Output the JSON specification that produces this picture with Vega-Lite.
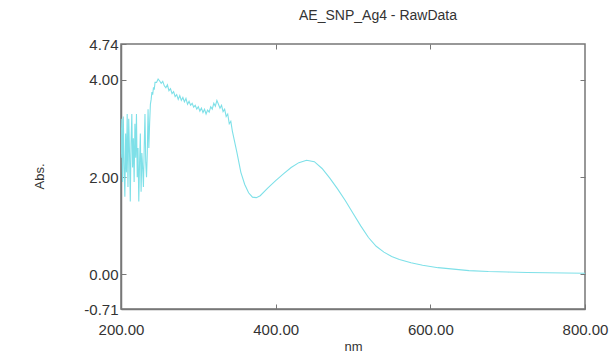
{
  "$schema": "https://vega.github.io/schema/vega-lite/v6.json",
  "autosize": "none",
  "width": 464,
  "height": 265,
  "padding": {"left": 121, "top": 44, "right": 27, "bottom": 45},
  "background": "white",
  "config": {
    "view": {"stroke": "#777", "strokeWidth": 1.5},
    "font": "Liberation Sans"
  },
  "title": {
    "text": "AE_SNP_Ag4 - RawData",
    "fontSize": 14,
    "fontWeight": "normal",
    "color": "#333",
    "anchor": "middle",
    "frame": "group",
    "offset": 14,
    "dx": 25
  },
  "data": {
    "values": [
      {"nm": 200, "abs": 2.4}, {"nm": 201, "abs": 3.2}, {"nm": 202, "abs": 1.9}, {"nm": 203, "abs": 3.25},
      {"nm": 204, "abs": 2.2}, {"nm": 205, "abs": 1.6}, {"nm": 206, "abs": 2.9}, {"nm": 207, "abs": 2.1},
      {"nm": 208, "abs": 3.3}, {"nm": 209, "abs": 1.8}, {"nm": 210, "abs": 3.2}, {"nm": 211, "abs": 2.5},
      {"nm": 212, "abs": 1.5}, {"nm": 213, "abs": 2.7}, {"nm": 214, "abs": 3.3}, {"nm": 215, "abs": 2.2},
      {"nm": 216, "abs": 2.8}, {"nm": 217, "abs": 1.9}, {"nm": 218, "abs": 3.1}, {"nm": 219, "abs": 2.4},
      {"nm": 220, "abs": 3.3}, {"nm": 221, "abs": 2.0}, {"nm": 222, "abs": 2.6}, {"nm": 223, "abs": 1.5},
      {"nm": 224, "abs": 2.3}, {"nm": 225, "abs": 2.9}, {"nm": 226, "abs": 1.7}, {"nm": 227, "abs": 2.5},
      {"nm": 228, "abs": 2.2}, {"nm": 229, "abs": 1.8}, {"nm": 230, "abs": 2.6}, {"nm": 231, "abs": 3.3},
      {"nm": 232, "abs": 2.3}, {"nm": 233, "abs": 2.0}, {"nm": 234, "abs": 2.5}, {"nm": 235, "abs": 3.4},
      {"nm": 236, "abs": 2.6}, {"nm": 237, "abs": 3.1}, {"nm": 238, "abs": 3.5}, {"nm": 239, "abs": 3.6},
      {"nm": 240, "abs": 3.75}, {"nm": 241, "abs": 3.7}, {"nm": 242, "abs": 3.85}, {"nm": 243, "abs": 3.8},
      {"nm": 244, "abs": 3.95}, {"nm": 246, "abs": 3.95}, {"nm": 248, "abs": 4.02}, {"nm": 250, "abs": 3.98},
      {"nm": 252, "abs": 3.93}, {"nm": 254, "abs": 3.97}, {"nm": 256, "abs": 3.88}, {"nm": 258, "abs": 3.84},
      {"nm": 260, "abs": 3.9}, {"nm": 262, "abs": 3.78}, {"nm": 264, "abs": 3.82}, {"nm": 266, "abs": 3.72},
      {"nm": 268, "abs": 3.76}, {"nm": 270, "abs": 3.66}, {"nm": 272, "abs": 3.7}, {"nm": 274, "abs": 3.6},
      {"nm": 276, "abs": 3.68}, {"nm": 278, "abs": 3.58}, {"nm": 280, "abs": 3.64}, {"nm": 282, "abs": 3.55},
      {"nm": 284, "abs": 3.62}, {"nm": 286, "abs": 3.5}, {"nm": 288, "abs": 3.56}, {"nm": 290, "abs": 3.48},
      {"nm": 292, "abs": 3.52}, {"nm": 294, "abs": 3.44}, {"nm": 296, "abs": 3.48}, {"nm": 298, "abs": 3.4},
      {"nm": 300, "abs": 3.45}, {"nm": 302, "abs": 3.36}, {"nm": 304, "abs": 3.42}, {"nm": 306, "abs": 3.33},
      {"nm": 308, "abs": 3.4}, {"nm": 310, "abs": 3.3}, {"nm": 312, "abs": 3.38}, {"nm": 314, "abs": 3.34},
      {"nm": 316, "abs": 3.45}, {"nm": 318, "abs": 3.4}, {"nm": 320, "abs": 3.52}, {"nm": 322, "abs": 3.46},
      {"nm": 324, "abs": 3.58}, {"nm": 326, "abs": 3.5}, {"nm": 328, "abs": 3.42}, {"nm": 330, "abs": 3.48},
      {"nm": 332, "abs": 3.35}, {"nm": 334, "abs": 3.4}, {"nm": 336, "abs": 3.25}, {"nm": 338, "abs": 3.3},
      {"nm": 340, "abs": 3.1}, {"nm": 342, "abs": 3.15}, {"nm": 344, "abs": 2.95}, {"nm": 346, "abs": 2.8},
      {"nm": 350, "abs": 2.5}, {"nm": 355, "abs": 2.1}, {"nm": 360, "abs": 1.85}, {"nm": 365, "abs": 1.68},
      {"nm": 370, "abs": 1.59}, {"nm": 375, "abs": 1.58}, {"nm": 380, "abs": 1.62}, {"nm": 390, "abs": 1.78},
      {"nm": 400, "abs": 1.93}, {"nm": 410, "abs": 2.07}, {"nm": 420, "abs": 2.2}, {"nm": 430, "abs": 2.3},
      {"nm": 440, "abs": 2.35}, {"nm": 450, "abs": 2.32}, {"nm": 460, "abs": 2.18}, {"nm": 470, "abs": 1.98},
      {"nm": 480, "abs": 1.76}, {"nm": 490, "abs": 1.52}, {"nm": 500, "abs": 1.26}, {"nm": 510, "abs": 1.0},
      {"nm": 520, "abs": 0.76}, {"nm": 530, "abs": 0.58}, {"nm": 540, "abs": 0.46}, {"nm": 550, "abs": 0.37},
      {"nm": 560, "abs": 0.31}, {"nm": 575, "abs": 0.24}, {"nm": 590, "abs": 0.19}, {"nm": 610, "abs": 0.14},
      {"nm": 630, "abs": 0.11}, {"nm": 650, "abs": 0.08}, {"nm": 675, "abs": 0.06}, {"nm": 700, "abs": 0.05},
      {"nm": 725, "abs": 0.04}, {"nm": 750, "abs": 0.035}, {"nm": 775, "abs": 0.03}, {"nm": 800, "abs": 0.025}
    ]
  },
  "layer": [
    {
      "mark": {"type": "line", "color": "#7ee0e8", "strokeWidth": 1.1, "clip": true},
      "encoding": {
        "x": {
          "field": "nm",
          "type": "quantitative",
          "scale": {"domain": [200, 800], "nice": false, "zero": false},
          "axis": {
            "values": [200, 400, 600, 800],
            "format": ".2f",
            "labelFlush": false,
            "labelFontSize": 15,
            "labelColor": "#333",
            "labelPadding": 18,
            "tickSize": -5,
            "tickColor": "#777",
            "domainColor": "#777",
            "domainWidth": 1.5,
            "grid": false,
            "title": "nm",
            "titleFontSize": 13,
            "titleFontWeight": "normal",
            "titleColor": "#333",
            "titleY": 37,
            "titleBaseline": "middle"
          }
        },
        "y": {
          "field": "abs",
          "type": "quantitative",
          "scale": {"domain": [-0.71, 4.74], "nice": false, "zero": false},
          "axis": {
            "values": [-0.71, 0, 2, 4, 4.74],
            "labelExpr": "datum.value < 0 ? '-' + format(-datum.value, '.2f') : format(datum.value, '.2f')",
            "labelFontSize": 15,
            "labelColor": "#333",
            "labelPadding": 8,
            "tickSize": -5,
            "tickColor": "#777",
            "domainColor": "#777",
            "domainWidth": 1.5,
            "grid": false,
            "title": "Abs.",
            "titleFontSize": 13,
            "titleFontWeight": "normal",
            "titleColor": "#333",
            "titleX": -82,
            "titleY": 132,
            "titleAngle": -90,
            "titleAlign": "center",
            "titleBaseline": "middle"
          }
        }
      }
    },
    {
      "mark": {"type": "line", "opacity": 0},
      "encoding": {
        "x": {
          "field": "nm",
          "type": "quantitative",
          "axis": {
            "orient": "top",
            "values": [400, 600],
            "labels": false,
            "tickSize": -5,
            "tickColor": "#777",
            "domain": false,
            "grid": false,
            "title": null
          }
        },
        "y": {
          "field": "abs",
          "type": "quantitative",
          "axis": {
            "orient": "right",
            "values": [0, 2, 4],
            "labels": false,
            "tickSize": -5,
            "tickColor": "#777",
            "domain": false,
            "grid": false,
            "title": null
          }
        }
      }
    }
  ],
  "resolve": {"axis": {"x": "independent", "y": "independent"}}
}
